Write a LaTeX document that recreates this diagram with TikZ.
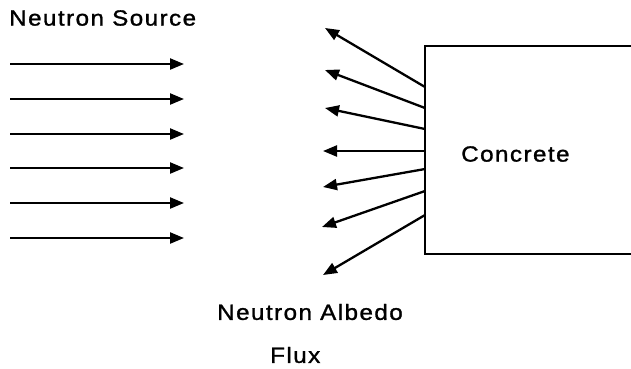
\documentclass[tikz,border=0pt]{standalone}
\usepackage{fontspec}
\newfontfamily\plotfont[LetterSpace=6,FakeBold=1.2]{Liberation Sans}
\usetikzlibrary{arrows.meta}
\begin{document}
\begin{tikzpicture}[x=1pt,y=-1pt,
  ray/.style={line width=2.3pt,-{Triangle[length=14pt,width=11pt]}},
  wall/.style={line width=2.4pt},
  lbl/.style={font=\plotfont\fontsize{22}{26}\selectfont,inner sep=0pt,xscale=1.1,anchor=west}]
\useasboundingbox (0,0) rectangle (631,368);
% labels
\node[lbl] (src) at (9,18) {Neutron Source};
\node[lbl] (conc) at (461,154) {Concrete};
\node[lbl] (alb) at (217,312) {Neutron Albedo};
\node[lbl] (flux) at (270,355) {Flux};
% concrete block (open to the right)
\coordinate (tr) at (631,46);
\coordinate (tl) at (425,46);
\coordinate (bl) at (425,254);
\coordinate (br) at (631,254);
\draw[wall] (tr) -- (tl) -- (bl) -- (br);
% incident neutrons
\foreach \i/\y in {1/64,2/99,3/134,4/168,5/203,6/238}{
  \coordinate (s\i) at (10,\y);
  \coordinate (e\i) at (184,\y);
  \draw[ray] (s\i) -- (e\i);
}
% reflected neutrons
\foreach \i/\ya/\xb/\yb in {1/87/325/28,2/108/325/70,3/129/325/108,4/151/323/151,5/169/323/187,6/191/322/227,7/215/323/275}{
  \coordinate (r\i) at (425,\ya);
  \coordinate (t\i) at (\xb,\yb);
  \draw[ray] (r\i) -- (t\i);
}
\end{tikzpicture}
\end{document}
